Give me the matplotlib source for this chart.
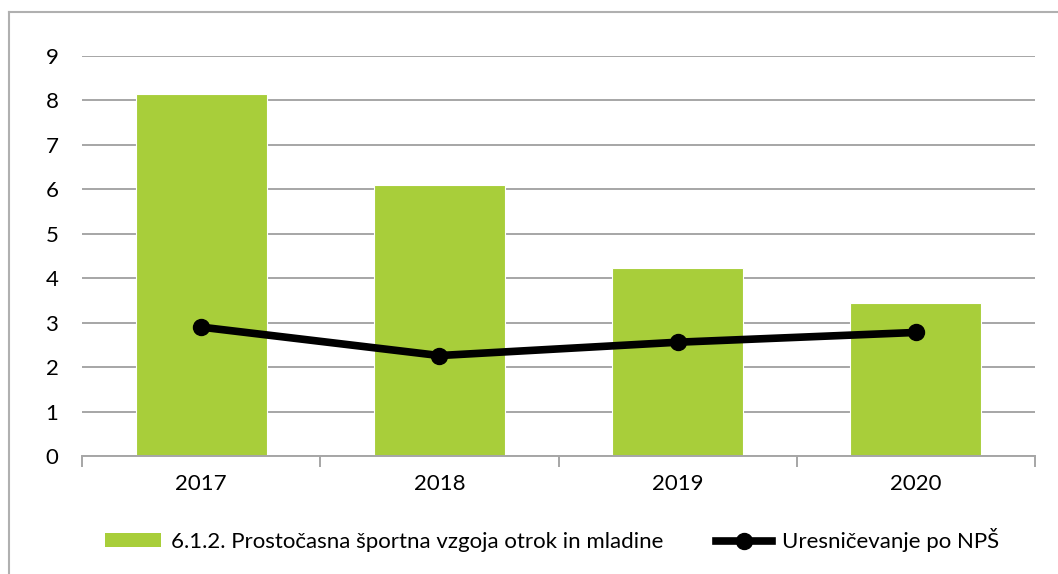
import matplotlib
matplotlib.use("Agg")
import matplotlib.pyplot as plt
from matplotlib.lines import Line2D
from matplotlib.patches import Rectangle
import numpy as np

years = ["2017", "2018", "2019", "2020"]
bar_values = [8.15, 6.10, 4.23, 3.44]
line_values = [2.90, 2.26, 2.56, 2.78]
bar_label = "6.1.2. Prostočasna športna vzgoja otrok in mladine"
line_label = "Uresničevanje po NPŠ"
yticks = [0, 1, 2, 3, 4, 5, 6, 7, 8, 9]

plt.rcParams['font.family'] = ['Lato', 'DejaVu Sans']

W, H = 1058, 574
fig = plt.figure(figsize=(W / 100, H / 100), dpi=100)
ax = fig.add_axes([82 / W, (H - 456) / H, (1035 - 82) / W, (456 - 56) / H])

x = np.arange(len(years))
bar_color = "#A8CE3A"
ax.bar(x, bar_values, width=0.55, color=bar_color, edgecolor="white", linewidth=0.8, zorder=2)
ax.plot(x, line_values, color="black", linewidth=5.5, marker="o", markersize=11.5,
        solid_capstyle="round", zorder=3)

ax.set_xlim(-0.5, len(years) - 0.5)
ax.set_ylim(0, 9)
ax.set_yticks(yticks)
ax.set_yticklabels([str(v) for v in yticks], fontsize=16)
ax.yaxis.grid(True, color="#A6A6A6", linewidth=1.4, zorder=0)
ax.set_axisbelow(True)
ax.tick_params(axis="y", length=0, pad=17)

ax.set_xticks(x)
ax.set_xticklabels(years, fontsize=16)
ax.tick_params(axis="x", length=0, pad=13)
ax.set_xticks(np.arange(len(years) + 1) - 0.5, minor=True)
ax.tick_params(axis="x", which="minor", length=8, width=1.4, color="#A6A6A6")

for s in ["top", "right", "left"]:
    ax.spines[s].set_visible(False)
ax.spines["bottom"].set_color("#A6A6A6")
ax.spines["bottom"].set_linewidth(1.4)

handles = [
    Rectangle((0, 0), 1, 1, facecolor=bar_color, edgecolor="none"),
    Line2D([0], [0], color="black", linewidth=5.5, marker="o", markersize=11.5),
]
fig.legend(handles, [bar_label, line_label], loc="center", ncol=2,
           bbox_to_anchor=(552 / W, 1 - 540 / H), frameon=False, fontsize=16,
           handlelength=2.5, handleheight=0.6, handletextpad=0.45, columnspacing=2.4)

# outer frame (left and top edges)
fig.add_artist(Line2D([9 / W, 9 / W], [0, 1 - 12 / H], transform=fig.transFigure,
                      color="#B0B0B0", linewidth=1.5))
fig.add_artist(Line2D([9 / W, 1], [1 - 12 / H, 1 - 12 / H], transform=fig.transFigure,
                      color="#B0B0B0", linewidth=1.5))

fig.savefig("out.png", dpi=100)
